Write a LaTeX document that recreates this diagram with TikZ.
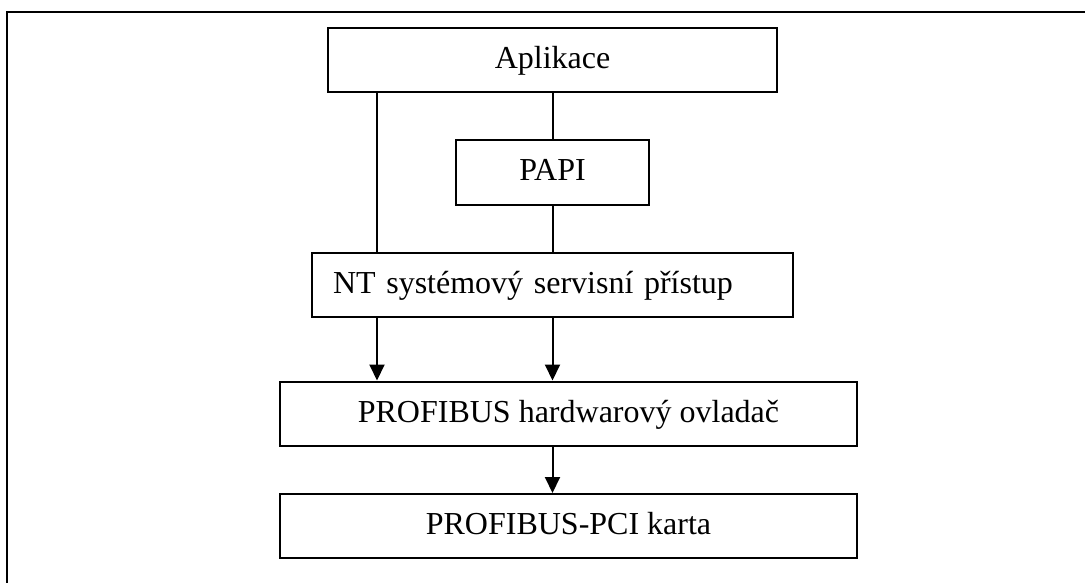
\documentclass[tikz,border=0pt]{standalone}
\usepackage{fontspec}
\setmainfont{Liberation Serif}
\usetikzlibrary{arrows.meta}
\begin{document}
\begin{tikzpicture}[x=1pt,y=-1pt,line width=2pt,
  box/.style={draw,line width=2pt,rectangle,inner sep=0pt,
    font=\fontsize{32pt}{38pt}\selectfont,text height=21pt,text depth=4pt},
  arr/.style={-{Triangle[length=16pt,width=15pt]},line width=2pt}]
\useasboundingbox (0,0) rectangle (1085,583);
\clip (0,0) rectangle (1085,583);
% outer frame (partly outside the visible area)
\coordinate (fbl) at (7,600);
\coordinate (ftl) at (7,12);
\coordinate (ftr) at (1100,12);
\draw (fbl) -- (ftl) -- (ftr);
% boxes
\node[box,minimum width=449pt,minimum height=64pt] (apl) at (552.5,60) {Aplikace};
\node[box,minimum width=193pt,minimum height=65pt] (papi) at (552.5,172.5) {PAPI};
\node[box,minimum width=481pt,minimum height=64pt,text width=439pt,align=left,inner xsep=21pt] (nt) at (552.5,285) {NT systémový servisní přístup};
\node[box,minimum width=577pt,minimum height=64pt] (hw) at (568.5,413.5) {PROFIBUS hardwarový ovladač};
\node[box,minimum width=577pt,minimum height=64pt] (pci) at (568.5,526) {PROFIBUS-PCI karta};
% connectors
\coordinate (lx) at (377,0);
\draw (apl.south -| lx) -- (nt.north -| lx);
\draw (apl.south -| papi.north) -- (papi.north);
\draw (papi.south) -- (nt.north -| papi.south);
\draw[arr] (nt.south -| lx) -- (hw.north -| lx);
\draw[arr] (nt.south -| papi.south) -- (hw.north -| papi.south);
\draw[arr] (hw.south -| papi.south) -- (pci.north -| papi.south);
\end{tikzpicture}
\end{document}
